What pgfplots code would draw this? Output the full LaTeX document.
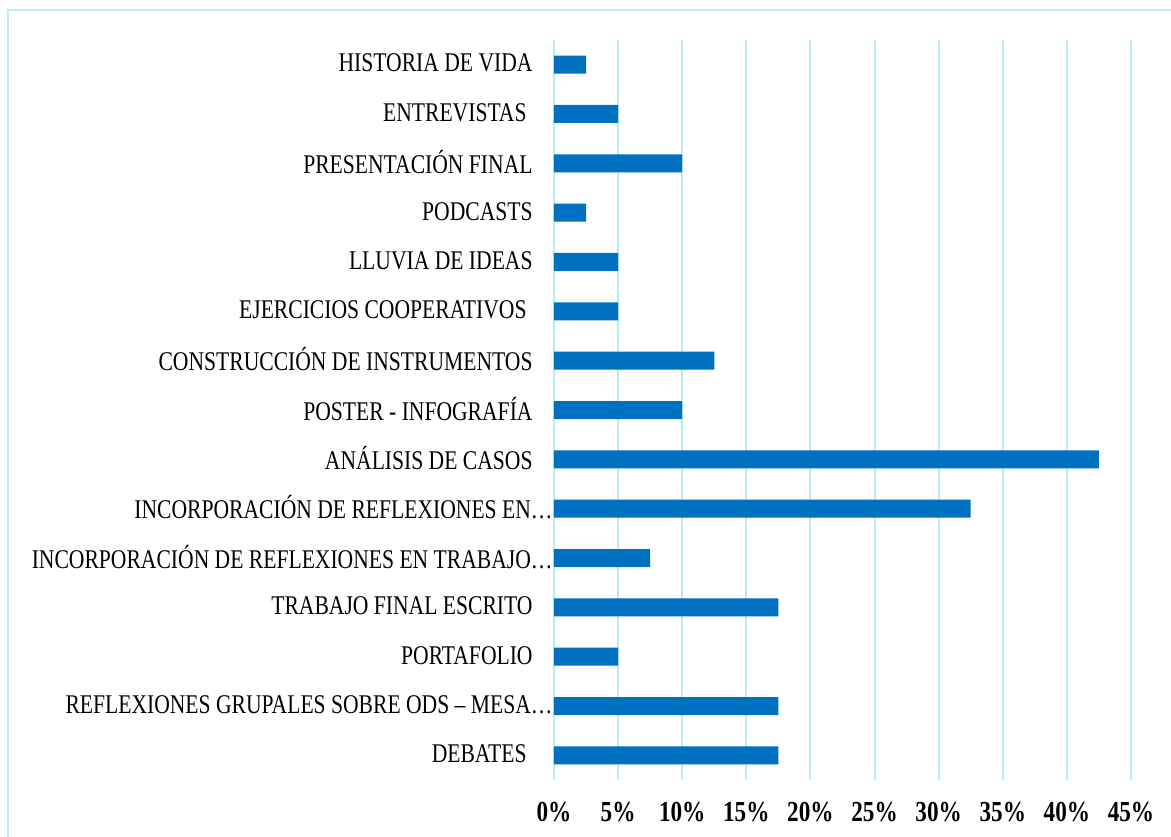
\documentclass[border=0pt]{standalone}
\usepackage{fontspec}
\setmainfont{Liberation Serif}[FakeStretch=0.8]
\usepackage{pgfplots}
\pgfplotsset{compat=1.18}
\definecolor{barblue}{RGB}{0,112,192}
\definecolor{gridcyan}{RGB}{185,236,250}
\begin{document}
\begin{tikzpicture}
\begin{axis}[
  at={(0pt,0pt)}, anchor=south west,
  scale only axis, width=288.5pt, height=370pt,
  xbar, bar width=9pt,
  xmin=0, xmax=45, ymin=-0.5, ymax=14.5,
  xtick={0,5,...,45},
  xticklabel={\pgfmathprintnumber{\tick}\%},
  /pgf/number format/assume math mode=true,
  ytick={0,...,14},
  yticklabels={
    DEBATES\kern3pt,
    REFLEXIONES GRUPALES SOBRE ODS – MESA…\kern-10pt,
    PORTAFOLIO,
    TRABAJO FINAL ESCRITO,
    INCORPORACIÓN DE REFLEXIONES EN TRABAJO…\kern-10pt,
    INCORPORACIÓN DE REFLEXIONES EN…\kern-10pt,
    ANÁLISIS DE CASOS,
    POSTER - INFOGRAFÍA,
    CONSTRUCCIÓN DE INSTRUMENTOS,
    EJERCICIOS COOPERATIVOS\kern3pt,
    LLUVIA DE IDEAS,
    PODCASTS,
    PRESENTACIÓN FINAL,
    ENTREVISTAS\kern3pt,
    HISTORIA DE VIDA},
  axis line style={draw=none},
  major tick length=0pt,
  xmajorgrids, ymajorgrids=false,
  grid style={gridcyan, line width=1pt},
  xticklabel style={font=\bfseries\fontsize{14.5}{16}\selectfont, inner sep=0pt, anchor=north, yshift=-11pt},
  yticklabel style={font=\fontsize{13.5}{16}\selectfont, inner sep=0pt, anchor=east, xshift=-10.5pt, yshift=0.7pt},
  clip=false,
]
\addplot[fill=barblue, draw=none] coordinates {
  (17.5,0) (17.5,1) (5,2) (17.5,3) (7.5,4) (32.5,5) (42.5,6) (10,7)
  (12.5,8) (5,9) (5,10) (2.5,11) (10,12) (5,13) (2.5,14)};
\end{axis}
\pgfresetboundingbox
\useasboundingbox (-277pt,-28pt) rectangle (308.5pt,390pt);
\draw[gridcyan, line width=1pt] (-272.8pt,-40pt) -- (-272.8pt,385pt) -- (320pt,385pt);
\end{tikzpicture}
\end{document}
